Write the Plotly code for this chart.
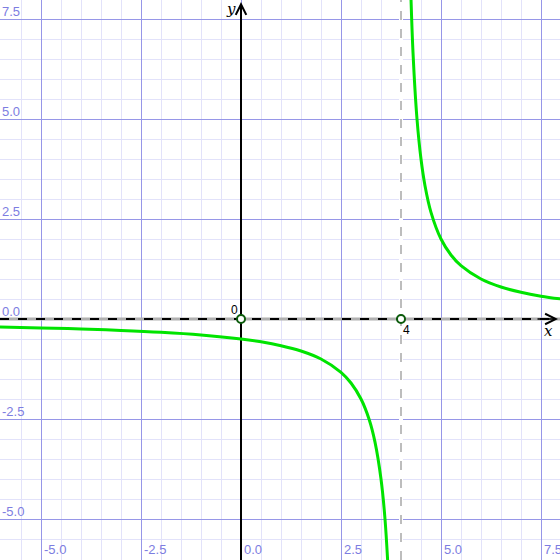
import plotly.graph_objects as go

# values
left_x = [-6.1, -5.0, -4.0, -3.0, -2.0, -1.0, 0.0, 0.5, 1.0, 1.5, 2.0, 2.5, 2.75, 3.0,
          3.2, 3.35, 3.5, 3.6, 3.7]
left_y = [-0.197, -0.222, -0.25, -0.286, -0.333, -0.4, -0.5, -0.571, -0.667, -0.8, -1.0,
          -1.333, -1.6, -2.0, -2.5, -3.077, -4.0, -5.0, -6.667]
right_x = [4.24, 4.3, 4.4, 4.5, 4.6, 4.75, 5.0, 5.25, 5.5, 6.0, 6.5, 7.0, 7.5, 8.1]
right_y = [8.333, 6.667, 5.0, 4.0, 3.333, 2.667, 2.0, 1.6, 1.333, 1.0, 0.8, 0.667, 0.571, 0.488]

point_x = [0, 4]
point_y = [0, 0]
point_labels = ["0", "4"]
asymptote_x = 4

tick_vals = [-5.0, -2.5, 0.0, 2.5, 5.0, 7.5]
tick_text = ["-5.0", "-2.5", "0.0", "2.5", "5.0", "7.5"]

lo, hi = -6.025, 7.975
major = "rgb(150,150,232)"
minor = "rgb(226,226,250)"
label_col = "rgb(125,125,225)"

fig = go.Figure()

fig.add_trace(go.Scatter(x=left_x, y=left_y, mode="lines", line=dict(color="#00e400", width=3, shape="spline"),
                         showlegend=False, hoverinfo="skip"))
fig.add_trace(go.Scatter(x=right_x, y=right_y, mode="lines", line=dict(color="#00e400", width=3, shape="spline"),
                         showlegend=False, hoverinfo="skip"))

# asymptote + axes (between grid and traces)
fig.add_shape(type="line", x0=asymptote_x, x1=asymptote_x, y0=lo, y1=hi, line=dict(color="white", width=4), layer="between")
fig.add_shape(type="line", x0=asymptote_x, x1=asymptote_x, y0=lo, y1=hi, line=dict(color="#bdbdbd", width=2, dash="dash"),
              layer="between")
fig.add_shape(type="line", x0=lo, x1=hi, y0=0, y1=0, line=dict(color="#b0b0b0", width=3), layer="between")
fig.add_shape(type="line", x0=lo, x1=hi - 0.1, y0=0, y1=0, line=dict(color="black", width=2, dash="dash"), layer="between")
fig.add_shape(type="line", x0=0, x1=0, y0=lo, y1=hi - 0.1, line=dict(color="black", width=2), layer="between")

fig.add_trace(go.Scatter(x=point_x, y=point_y, mode="markers",
                         marker=dict(color="white", size=8, line=dict(color="#0a5a0a", width=2)),
                         showlegend=False, hoverinfo="skip"))

annotations = []
# axis arrows
annotations.append(dict(x=hi - 0.05, y=0, ax=hi - 0.6, ay=0, xref="x", yref="y", axref="x", ayref="y",
                        showarrow=True, arrowhead=5, arrowsize=1.3, arrowwidth=1.6, arrowcolor="black", text=""))
annotations.append(dict(x=0, y=hi - 0.05, ax=0, ay=hi - 0.6, xref="x", yref="y", axref="x", ayref="y",
                        showarrow=True, arrowhead=5, arrowsize=1.3, arrowwidth=1.6, arrowcolor="black", text=""))
annotations.append(dict(x=hi - 0.3, y=0, text="x", showarrow=False, xanchor="center", yanchor="top", yshift=-1,
                        font=dict(family="DejaVu Serif", size=15, color="black", style="italic")))
annotations.append(dict(x=-0.25, y=hi, text="y", showarrow=False, xanchor="center", yanchor="top", yshift=2,
                        font=dict(family="DejaVu Serif", size=15, color="black", style="italic")))
annotations.append(dict(x=point_x[0], y=point_y[0], text=point_labels[0], showarrow=False, xanchor="right",
                        yanchor="bottom", xshift=-1, yshift=0, font=dict(family="Liberation Sans", size=12, color="black")))
annotations.append(dict(x=point_x[1], y=point_y[1], text=point_labels[1], showarrow=False, xanchor="left",
                        yanchor="top", xshift=0, yshift=-2, font=dict(family="Liberation Sans", size=12, color="black")))

for v, t in zip(tick_vals, tick_text):
    annotations.append(dict(x=v, y=0, xref="x", yref="paper", text=t, showarrow=False, xanchor="left",
                            yanchor="bottom", xshift=1, yshift=1,
                            font=dict(family="Liberation Sans", size=13, color=label_col)))
    annotations.append(dict(x=0, y=v, xref="paper", yref="y", text=t, showarrow=False, xanchor="left",
                            yanchor="bottom", xshift=0, yshift=-2,
                            font=dict(family="Liberation Sans", size=13, color=label_col)))

axis_common = dict(range=[lo, hi], tick0=0, dtick=2.5, showgrid=True, gridcolor=major, gridwidth=1,
                   minor=dict(dtick=0.5, tick0=0, showgrid=True, gridcolor=minor, gridwidth=1),
                   zeroline=False, showticklabels=False, ticks="", fixedrange=True, showline=False)

fig.update_layout(
    template="none",
    width=560, height=560,
    margin=dict(l=0, r=0, t=0, b=0),
    plot_bgcolor="white", paper_bgcolor="white",
    xaxis=axis_common,
    yaxis=axis_common,
    annotations=annotations,
    showlegend=False,
)

fig.write_html("out.html", config={"staticPlot": True},
               post_script="document.body.style.margin='0px';document.body.style.overflow='hidden';")
